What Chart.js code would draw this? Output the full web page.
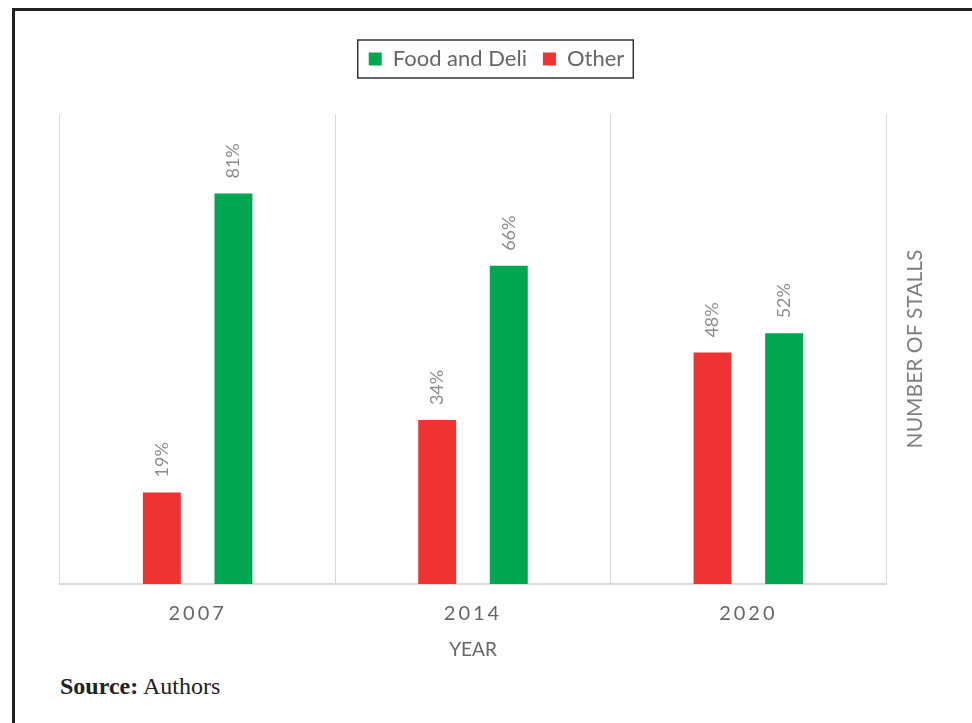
<!DOCTYPE html>
<html>
<head>
<meta charset="utf-8">
<script src="https://cdn.jsdelivr.net/npm/chart.js@4.4.1/dist/chart.umd.min.js"></script>
<style>
   body { margin: 0; background: #fff; overflow: hidden; width: 972px; height: 723px; position: relative; }
   #frame { position: absolute; left: 12px; top: 8px; width: 1000px; height: 800px; border: 3px solid #222; box-sizing: border-box; }
   #wrap { position: absolute; left: 0; top: 0; width: 972px; height: 659px; }
   #source { position: absolute; left: 60px; top: 673px; font-family: "Liberation Serif", serif; font-size: 24px; color: #222; }
</style>
</head>
<body>
<div id="frame"></div>
<div id="wrap"><canvas id="chartResult"></canvas></div>
<div id="source"><b>Source:</b> Authors</div>
<script>
const years = ['2007', '2014', '2020']
const otherShare = [19, 34, 48]
const foodShare = [81, 66, 52]

const grey = '#7f7f7f'
const font = 'Lato, "Open Sans", sans-serif'

// value labels above bars (rotated), legend frame and right side title
const barLabels = {
   id: 'barLabels',
   afterDatasetsDraw(chart) {
      const ctx = chart.ctx
      ctx.save()
      ctx.font = '18px ' + font
      ctx.fillStyle = '#8c8c8c'
      ctx.textAlign = 'left'
      ctx.textBaseline = 'middle'
      chart.data.datasets.forEach((ds, i) => {
         chart.getDatasetMeta(i).data.forEach((bar, j) => {
            ctx.save()
            ctx.translate(bar.x, bar.y - 15)
            ctx.rotate(-Math.PI / 2)
            ctx.fillText(ds.data[j] + '%', 0, 0)
            ctx.restore()
         })
      })
      ctx.restore()
      // x tick labels are drawn after this (ticks.z = 1)
      ctx.letterSpacing = '3px'
   },
   afterDraw(chart) {
      const ctx = chart.ctx
      ctx.letterSpacing = '0px'

      const hb = chart.legend.legendHitBoxes
      if (hb && hb.length) {
         const last = hb[hb.length - 1]
         const x0 = hb[0].left - 11
         const x1 = last.left + last.width + 9
         const cy = hb[0].top + hb[0].height / 2
         ctx.save()
         ctx.strokeStyle = '#333'
         ctx.lineWidth = 1.5
         ctx.strokeRect(x0, cy - 19, x1 - x0, 38)
         ctx.restore()
      }

      ctx.save()
      ctx.font = '21px ' + font
      ctx.fillStyle = grey
      ctx.textAlign = 'center'
      ctx.textBaseline = 'middle'
      const a = chart.chartArea
      ctx.translate(915, (a.top + a.bottom) / 2)
      ctx.rotate(-Math.PI / 2)
      ctx.fillText('NUMBER OF STALLS', 0, 0)
      ctx.restore()
   }
}

const myChart = new Chart(document.getElementById('chartResult'), {
   type: 'bar',
   data: {
      labels: years,
      datasets: [{
         label: 'Other',
         data: otherShare,
         backgroundColor: '#ef3333'
      }, {
         label: 'Food and Deli',
         data: foodShare,
         backgroundColor: '#00a650'
      }]
   },
   options: {
      responsive: true,
      maintainAspectRatio: false,
      animation: false,
      categoryPercentage: 0.52,
      barPercentage: 0.53,
      layout: {
         padding: { left: 60, right: 39, top: 32, bottom: 0 }
      },
      plugins: {
         tooltip: { enabled: false },
         legend: {
            display: true,
            position: 'top',
            reverse: true,
            labels: {
               boxWidth: 13,
               boxHeight: 13,
               padding: 16,
               color: '#666666',
               font: { family: font, size: 22 }
            }
         },
         // empty spacer between legend and plot
         subtitle: {
            display: true,
            text: '',
            weight: 500,
            padding: 0,
            font: { size: 34, lineHeight: 1 }
         }
      },
      scales: {
         x: {
            grid: { display: true, offset: true, color: '#d9d9d9', drawTicks: false },
            border: { color: '#d9d9d9', width: 2 },
            ticks: { z: 1, color: '#666666', padding: 20, font: { family: font, size: 20, lineHeight: 1 } },
            title: { display: true, text: 'YEAR', color: '#666666', padding: { top: -4, bottom: 0 }, font: { family: font, size: 19, lineHeight: 1 } }
         },
         y: {
            display: true,
            position: 'right',
            min: 0,
            max: 97.5,
            grid: { display: false },
            border: { display: false },
            ticks: { display: false },
            afterFit: (scale) => { scale.width = 47 }
         }
      }
   },
   plugins: [barLabels]
})
</script>
</body>
</html>
